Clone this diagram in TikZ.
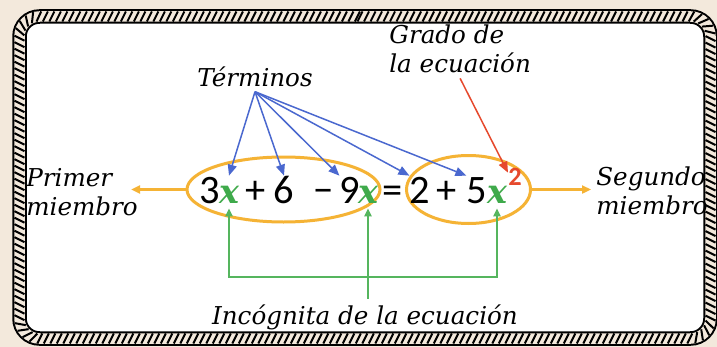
\documentclass[tikz,border=0pt]{standalone}
\usepackage{fontspec}
\usepackage{amsmath}
\usepackage{amssymb}
\setmainfont{DejaVu Serif}
\newfontfamily\eqfont{Carlito}
\usetikzlibrary{arrows.meta,positioning,shapes.geometric,decorations.markings}

\definecolor{papel}{HTML}{F3E9DC}
\definecolor{azul}{HTML}{4A68CF}
\definecolor{naranja}{HTML}{F5B335}
\definecolor{verde}{HTML}{55B55E}
\definecolor{verdex}{HTML}{3FAA4B}
\definecolor{rojo}{HTML}{E6492D}

\newcommand{\incog}{{\rmfamily\bfseries\itshape\fontsize{19}{23}\selectfont\textcolor{verdex}{x}}}

\begin{document}
\begin{tikzpicture}[x=0.2mm, y=-0.2mm,
		lbl/.style={font=\itshape\fontsize{14}{16.5}\selectfont, inner sep=1mm},
		glifo/.style={font=\eqfont\fontsize{23}{27}\selectfont, inner sep=0pt, anchor=base, text height=5.4mm, text depth=0pt},
		elipse/.style={ellipse, draw=naranja, line width=0.6mm, inner sep=0pt},
		flechaazul/.style={draw=azul, line width=0.3mm, -{Triangle[length=2.2mm,width=1.8mm]}},
		flecharoja/.style={draw=rojo, line width=0.3mm, -{Triangle[length=2.2mm,width=1.8mm]}},
		flechanaranja/.style={draw=naranja, line width=0.45mm, -{Triangle[length=1.8mm,width=1.6mm]}},
		flechaverde/.style={draw=verde, line width=0.4mm},
		puntaverde/.tip={Triangle[length=1.6mm,width=1.4mm]},
		cuerda/.style={decoration={markings,
				mark=between positions 0 and 1 step 1.3mm with {\draw[line width=0.4mm] (-0.5mm,-1mm) -- (0.5mm,1mm);}},
			decorate}
	]
	\fill[papel] (0,0) rectangle (717,347);
	\useasboundingbox (0,0) rectangle (717,347);
	
	% marco de cuerda
	\fill[white, rounded corners=4mm] (19.5,16.5) -- (710.5,16.5) -- (710.5,338.5) -- (19.5,338.5) -- cycle;
	\draw[line width=2.9mm, rounded corners=4mm] (19.5,16.5) -- (710.5,16.5) -- (710.5,338.5) -- (19.5,338.5) -- cycle;
	\draw[papel, line width=2.1mm, rounded corners=4mm] (19.5,16.5) -- (710.5,16.5) -- (710.5,338.5) -- (19.5,338.5) -- cycle;
	\path[cuerda, rounded corners=4mm] (360,16.5) -- (710.5,16.5) -- (710.5,338.5) -- (19.5,338.5) -- (19.5,16.5) -- (360,16.5);
	
	% miembros
	\node[elipse, minimum width=38.6mm, minimum height=13mm] (lhs) at (283.5,189.5) {};
	\node[elipse, minimum width=24.8mm, minimum height=13.6mm] (rhs) at (468.5,189.5) {};
	
	% ecuacion
	\foreach \cx/\nom/\txt in {210/n3/3, 229/x1/\incog, 256/mas1/+, 284/n6/6, 324/menos/−,
		350/n9/9, 368/x2/\incog, 393/igual/=, 420/n2/2, 447/mas2/+, 477/n5/5, 497/x3/\incog}
		\node[glifo] (\nom) at (\cx,203) {\txt};
	\node[glifo, font=\eqfont\bfseries\fontsize{15}{18}\selectfont, text=rojo, text height=2.4mm] (sup) at (515,185) {2};
	
	% textos
	\node[lbl, anchor=base] (term) at (255,86) {Términos};
	\node[lbl, anchor=west, align=left] (grado) at (384,49) {Grado de\\la ecuación};
	\node[lbl, anchor=west, align=left] (primer) at (21,192) {Primer\\miembro};
	\node[lbl, anchor=west, align=left] (segundo) at (591,191) {Segundo\\miembro};
	\node[lbl, anchor=base] (incog) at (365,324) {Incógnita de la ecuación};
	
	% flechas
	\foreach \dest in {x1.north, n6.north, n9.north west, n2.north west, n5.north west}
		\draw[flechaazul] (term.south) -- (\dest);
	\draw[flecharoja] (grado.south) -- (sup.north west);
	\draw[flechanaranja, shorten >=-2.4mm] (lhs.west) -- (primer.east |- lhs.west);
	\draw[flechanaranja] (rhs.east) -- (segundo.west |- rhs.east);
	\coordinate (codo) at (362,277);
	\draw[flechaverde, puntaverde-puntaverde, shorten <=1mm, shorten >=1mm] (x1.south) |- (codo) -| (x3.south);
	\draw[flechaverde, -puntaverde, shorten >=1mm] (incog.north -| x2.south) -- (x2.south);
\end{tikzpicture}
\end{document}
